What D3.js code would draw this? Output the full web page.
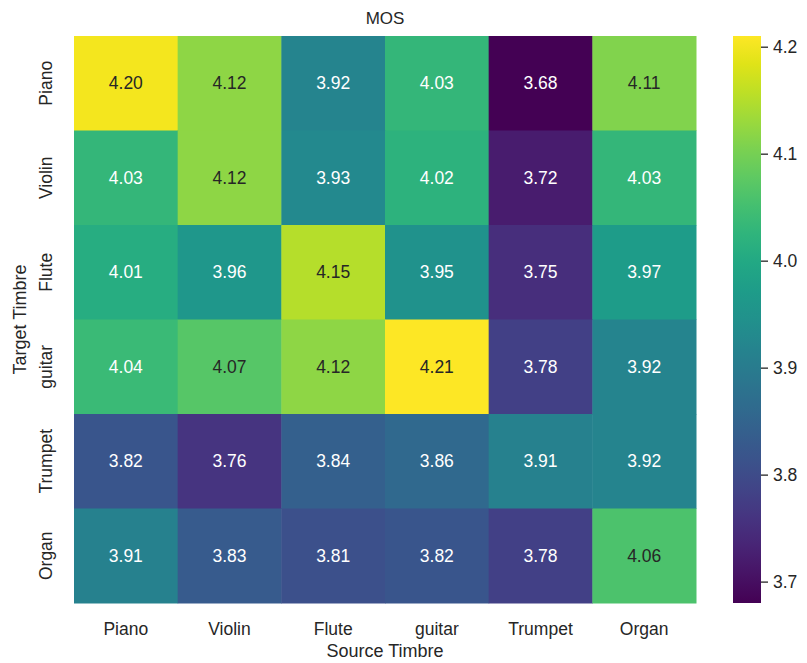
<!DOCTYPE html>
<html>
<head>
<meta charset="utf-8">
<script src="https://cdn.jsdelivr.net/npm/d3@7"></script>
<style>
  body { margin: 0; background: #fff; }
  text { font-family: "Liberation Sans", Arial, sans-serif; }
</style>
</head>
<body>
<svg id="chart" width="807" height="663"></svg>
<script>
// MOS scores: rows = target timbre, columns = source timbre
const sourceTimbres = ["Piano", "Violin", "Flute", "guitar", "Trumpet", "Organ"];
const targetTimbres = ["Piano", "Violin", "Flute", "guitar", "Trumpet", "Organ"];
const mosPiano   = [4.20, 4.12, 3.92, 4.03, 3.68, 4.11];
const mosViolin  = [4.03, 4.12, 3.93, 4.02, 3.72, 4.03];
const mosFlute   = [4.01, 3.96, 4.15, 3.95, 3.75, 3.97];
const mosGuitar  = [4.04, 4.07, 4.12, 4.21, 3.78, 3.92];
const mosTrumpet = [3.82, 3.76, 3.84, 3.86, 3.91, 3.92];
const mosOrgan   = [3.91, 3.83, 3.81, 3.82, 3.78, 4.06];
const mosRows = [mosPiano, mosViolin, mosFlute, mosGuitar, mosTrumpet, mosOrgan];
const colorbarTicks = [3.7, 3.8, 3.9, 4.0, 4.1, 4.2];

const svg = d3.select("#chart");
const plotLeft = 74, plotTop = 36, plotRight = 696, plotBottom = 603;
const ink = "#262626";

const x = d3.scaleBand().domain(sourceTimbres).range([plotLeft, plotRight]);
const y = d3.scaleBand().domain(targetTimbres).range([plotTop, plotBottom]);

const allVals = mosRows.flat();
const vmin = d3.min(allVals), vmax = d3.max(allVals);
const color = d3.scaleSequential(d3.interpolateViridis).domain([vmin, vmax]);

// relative luminance decides dark or light annotation text
function luminance(c) {
  const rgb = d3.rgb(c);
  const f = v => { v /= 255; return v <= 0.03928 ? v / 12.92 : Math.pow((v + 0.055) / 1.055, 2.4); };
  return 0.2126 * f(rgb.r) + 0.7152 * f(rgb.g) + 0.0722 * f(rgb.b);
}

const cells = [];
targetTimbres.forEach((t, i) => sourceTimbres.forEach((s, j) => cells.push({ t, s, v: mosRows[i][j] })));

const g = svg.append("g");
g.selectAll("rect.cell").data(cells).enter().append("rect")
  .attr("class", "cell")
  .attr("x", d => x(d.s)).attr("y", d => y(d.t))
  .attr("width", x.bandwidth() + 0.5).attr("height", y.bandwidth() + 0.5)
  .attr("fill", d => color(d.v));

g.selectAll("text.val").data(cells).enter().append("text")
  .attr("class", "val")
  .attr("x", d => x(d.s) + x.bandwidth() / 2)
  .attr("y", d => y(d.t) + y.bandwidth() / 2)
  .attr("text-anchor", "middle").attr("dominant-baseline", "central")
  .attr("font-size", 17.5)
  .attr("fill", d => luminance(color(d.v)) > 0.408 ? ink : "#ffffff")
  .text(d => d.v.toFixed(2));

// x tick labels
svg.selectAll("text.xt").data(sourceTimbres).enter().append("text")
  .attr("x", d => x(d) + x.bandwidth() / 2).attr("y", 629)
  .attr("text-anchor", "middle").attr("dominant-baseline", "central")
  .attr("font-size", 17.5).attr("fill", ink).text(d => d);

// y tick labels (rotated)
svg.selectAll("text.yt").data(targetTimbres).enter().append("text")
  .attr("transform", d => `translate(46,${y(d) + y.bandwidth() / 2}) rotate(-90)`)
  .attr("text-anchor", "middle").attr("dominant-baseline", "central")
  .attr("font-size", 17.5).attr("fill", ink).text(d => d);

// axis titles
svg.append("text").attr("x", (plotLeft + plotRight) / 2).attr("y", 651)
  .attr("text-anchor", "middle").attr("dominant-baseline", "central")
  .attr("font-size", 18).attr("fill", ink).text("Source Timbre");
svg.append("text").attr("transform", `translate(20,${(plotTop + plotBottom) / 2}) rotate(-90)`)
  .attr("text-anchor", "middle").attr("dominant-baseline", "central")
  .attr("font-size", 18).attr("fill", ink).text("Target Timbre");

// title
svg.append("text").attr("x", (plotLeft + plotRight) / 2).attr("y", 18)
  .attr("text-anchor", "middle").attr("dominant-baseline", "central")
  .attr("font-size", 17).attr("fill", ink).text("MOS");

// colorbar
const cbX = 733, cbW = 28;
const cbScale = d3.scaleLinear().domain([vmin, vmax]).range([plotBottom, plotTop]);
const defs = svg.append("defs");
const grad = defs.append("linearGradient").attr("id", "cbgrad")
  .attr("x1", 0).attr("y1", 1).attr("x2", 0).attr("y2", 0);
d3.range(0, 1.0001, 0.05).forEach(t => {
  grad.append("stop").attr("offset", t).attr("stop-color", d3.interpolateViridis(t));
});
svg.append("rect").attr("x", cbX).attr("y", plotTop).attr("width", cbW).attr("height", plotBottom - plotTop)
  .attr("fill", "url(#cbgrad)");

const cbAxis = d3.axisRight(cbScale).tickValues(colorbarTicks).tickFormat(d3.format(".1f"))
  .tickSize(7).tickPadding(5);
const cbG = svg.append("g").attr("transform", `translate(${cbX + cbW},0)`).call(cbAxis);
cbG.select(".domain").remove();
cbG.selectAll(".tick line").attr("stroke", ink).attr("stroke-width", 1.3);
cbG.selectAll(".tick text").attr("font-size", 17.5).attr("fill", ink)
  .attr("font-family", "Liberation Sans, Arial, sans-serif");
</script>
</body>
</html>
